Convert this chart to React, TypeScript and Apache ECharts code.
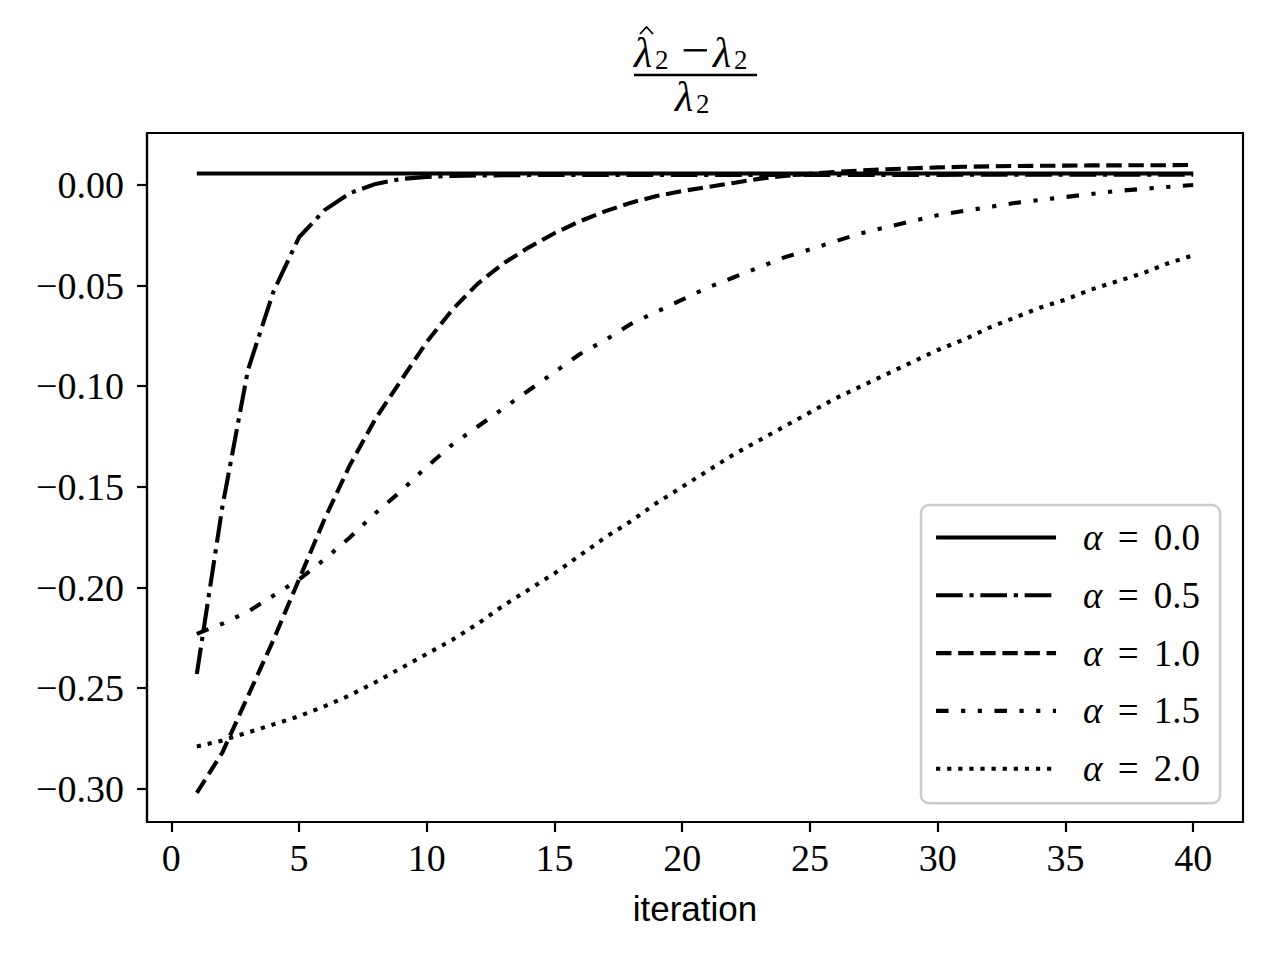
import React, { useEffect, useRef } from "react";
import * as echarts from "echarts";

const iterations = [
  1, 2, 3, 4, 5, 6, 7, 8, 9, 10, 11, 12, 13, 14, 15, 16, 17, 18, 19, 20,
  21, 22, 23, 24, 25, 26, 27, 28, 29, 30, 31, 32, 33, 34, 35, 36, 37, 38, 39, 40,
];

const seriesNames = ["α = 0.0", "α = 0.5", "α = 1.0", "α = 1.5", "α = 2.0"];

const alpha00 = [
  0.0057, 0.0057, 0.0057, 0.0057, 0.0057, 0.0057, 0.0057, 0.0057, 0.0057, 0.0057,
  0.0057, 0.0057, 0.0057, 0.0057, 0.0057, 0.0057, 0.0057, 0.0057, 0.0057, 0.0057,
  0.0057, 0.0057, 0.0057, 0.0057, 0.0057, 0.0057, 0.0057, 0.0057, 0.0057, 0.0057,
  0.0057, 0.0057, 0.0057, 0.0057, 0.0057, 0.0057, 0.0057, 0.0057, 0.0057, 0.0057,
];

const alpha05 = [
  -0.243, -0.16, -0.092, -0.053, -0.026, -0.0125, -0.004, 0.0005, 0.003, 0.004,
  0.0045, 0.0047, 0.0048, 0.0049, 0.005, 0.005, 0.005, 0.005, 0.005, 0.005,
  0.005, 0.005, 0.005, 0.005, 0.005, 0.005, 0.005, 0.005, 0.005, 0.005,
  0.0051, 0.0051, 0.0051, 0.0051, 0.0051, 0.0051, 0.0051, 0.0051, 0.0051, 0.0051,
];

const alpha10 = [
  -0.302, -0.282, -0.254, -0.226, -0.196, -0.166, -0.139, -0.116, -0.097, -0.078,
  -0.062, -0.049, -0.039, -0.031, -0.024, -0.018, -0.013, -0.0088, -0.0055, -0.003,
  -0.001, 0.001, 0.003, 0.0045, 0.0055, 0.0065, 0.0072, 0.0078, 0.0083, 0.0087,
  0.009, 0.0092, 0.0094, 0.0095, 0.0096, 0.0097, 0.0097, 0.0098, 0.0098, 0.0099,
];

const alpha15 = [
  -0.223, -0.218, -0.212, -0.204, -0.196, -0.186, -0.175, -0.163, -0.152, -0.14,
  -0.129, -0.12, -0.111, -0.102, -0.093, -0.084, -0.077, -0.069, -0.063, -0.057,
  -0.051, -0.046, -0.041, -0.036, -0.032, -0.028, -0.024, -0.021, -0.018, -0.015,
  -0.013, -0.011, -0.009, -0.0075, -0.006, -0.0045, -0.003, -0.002, -0.001, 0.0,
];

const alpha20 = [
  -0.279, -0.276, -0.272, -0.268, -0.264, -0.259, -0.2535, -0.247, -0.24, -0.233,
  -0.226, -0.218, -0.209, -0.201, -0.193, -0.184, -0.175, -0.167, -0.158, -0.15,
  -0.142, -0.134, -0.127, -0.12, -0.113, -0.106, -0.1, -0.094, -0.088, -0.082,
  -0.077, -0.071, -0.066, -0.061, -0.057, -0.052, -0.048, -0.044, -0.039, -0.035,
];

const xTickValues = [0, 5, 10, 15, 20, 25, 30, 35, 40];
const xTickLabels = ["0", "5", "10", "15", "20", "25", "30", "35", "40"];
const yTickValues = [0, -0.05, -0.1, -0.15, -0.2, -0.25, -0.3];
const yTickLabels = ["0.00", "−0.05", "−0.10", "−0.15", "−0.20", "−0.25", "−0.30"];

const xAxisName = "iteration";

const SERIF = "'Liberation Serif', 'DejaVu Serif', serif";
const SANS = "'Liberation Sans', 'DejaVu Sans', sans-serif";
const LW = 4.1;

const dashPatterns: (string | number[])[] = [
  "solid",
  [26.7, 6.7, 4.2, 6.7],
  [15.4, 6.7],
  [12.5, 12.5, 4.2, 12.5, 4.2, 12.5],
  [4.2, 6.9],
];

function labelFor(values: number[], labels: string[], v: number): string {
  for (let i = 0; i < values.length; i++) {
    if (Math.abs(values[i] - v) < 1e-9) return labels[i];
  }
  return "";
}

export default function App() {
  const ref = useRef<HTMLDivElement>(null);

  useEffect(() => {
    if (!ref.current) return;
    const chart = echarts.init(ref.current, null, { renderer: "svg" });
    const allValues = [alpha00, alpha05, alpha10, alpha15, alpha20];

    const series = allValues.map((vals, k) => ({
      type: "line",
      name: seriesNames[k],
      data: iterations.map((x, i) => [x, vals[i]]),
      symbol: "none",
      showSymbol: false,
      silent: true,
      itemStyle: { color: "rgba(0,0,0,0)" },
      lineStyle: {
        color: "#000000",
        width: LW,
        type: dashPatterns[k],
        cap: "butt",
        join: "round",
      },
      emphasis: { disabled: true },
    }));

    const titleText = (
      text: string,
      x: number,
      y: number,
      size: number,
      italic: boolean,
      align = "left"
    ) => ({
      type: "text",
      x,
      y,
      silent: true,
      style: {
        text,
        fill: "#000",
        font: `${italic ? "italic " : ""}${size}px ${SERIF}`,
        fontSize: size,
        fontFamily: SERIF,
        fontStyle: italic ? "italic" : "normal",
        align,
        textAlign: align,
        verticalAlign: "middle",
        textVerticalAlign: "middle",
      },
    });

    const axisLineStyle = { color: "#000", width: 2.2 };

    const option: any = {
      animation: false,
      backgroundColor: "#ffffff",
      grid: {
        left: 147,
        right: 37,
        top: 133,
        bottom: 138,
        show: true,
        borderColor: "#000000",
        borderWidth: 2.2,
        backgroundColor: "transparent",
        containLabel: false,
        outerBoundsMode: "none",
      },
      xAxis: {
        type: "value",
        min: -0.95,
        max: 41.95,
        name: xAxisName,
        nameLocation: "middle",
        nameGap: 69,
        nameTextStyle: { fontFamily: SANS, fontSize: 35, color: "#000" },
        axisLine: { show: true, onZero: false, lineStyle: axisLineStyle },
        splitLine: { show: false },
        axisTick: {
          show: true,
          length: 10,
          inside: false,
          customValues: xTickValues,
          lineStyle: axisLineStyle,
        },
        axisLabel: {
          show: true,
          customValues: xTickValues,
          margin: 17,
          fontFamily: SERIF,
          fontSize: 38,
          color: "#000",
          formatter: (v: number) => labelFor(xTickValues, xTickLabels, v),
        },
      },
      yAxis: {
        type: "value",
        min: -0.3165,
        max: 0.0258,
        axisLine: { show: true, onZero: false, lineStyle: axisLineStyle },
        splitLine: { show: false },
        axisTick: {
          show: true,
          length: 10,
          inside: false,
          customValues: yTickValues,
          lineStyle: axisLineStyle,
        },
        axisLabel: {
          show: true,
          customValues: yTickValues,
          margin: 23,
          fontFamily: SERIF,
          fontSize: 38,
          color: "#000",
          formatter: (v: number) => labelFor(yTickValues, yTickLabels, v),
        },
      },
      legend: {
        show: true,
        data: seriesNames,
        orient: "vertical",
        left: 921,
        top: 505,
        padding: [14, 20, 16, 13],
        itemGap: 20.8,
        itemWidth: 120,
        itemHeight: 14,
        selectedMode: false,
        backgroundColor: "rgba(255,255,255,0.8)",
        borderColor: "#cccccc",
        borderWidth: 2.5,
        borderRadius: 8,
        itemStyle: { color: "rgba(0,0,0,0)", borderWidth: 0, opacity: 0 },
        lineStyle: { width: LW, color: "#000", type: "inherit" },
        formatter: (name: string) =>
          name.replace("α", "{a|α}").replace("=", "{e|=}"),
        textStyle: {
          fontFamily: SERIF,
          fontSize: 37,
          lineHeight: 36,
          color: "#000",
          padding: [0, 0, 0, 22],
          rich: {
            a: { fontFamily: SERIF, fontSize: 37, lineHeight: 36, fontStyle: "italic", color: "#000" },
            e: { fontFamily: SERIF, fontSize: 37, lineHeight: 36, color: "#000", padding: [0, 6, 0, 6] },
          },
        },
      },
      graphic: [
        {
          type: "polyline",
          silent: true,
          shape: { points: [[640, 34], [646.5, 27], [653, 34]] },
          style: { stroke: "#000", lineWidth: 1.8, fill: null },
        },
        titleText("λ", 634, 53, 42, true),
        titleText("2", 655, 60, 27, false),
        titleText("−", 695, 50, 50, false, "center"),
        titleText("λ", 713, 53, 42, true),
        titleText("2", 734, 60, 27, false),
        {
          type: "line",
          silent: true,
          shape: { x1: 634, y1: 75, x2: 757, y2: 75 },
          style: { stroke: "#000", lineWidth: 2.4 },
        },
        titleText("λ", 675, 97, 42, true),
        titleText("2", 696, 104, 27, false),
      ],
      series,
    };

    chart.setOption(option);
    return () => {
      chart.dispose();
    };
  }, []);

  return (
    <div
      ref={ref}
      style={{ position: "fixed", left: 0, top: 0, width: 1280, height: 960, background: "#fff" }}
    />
  );
}
